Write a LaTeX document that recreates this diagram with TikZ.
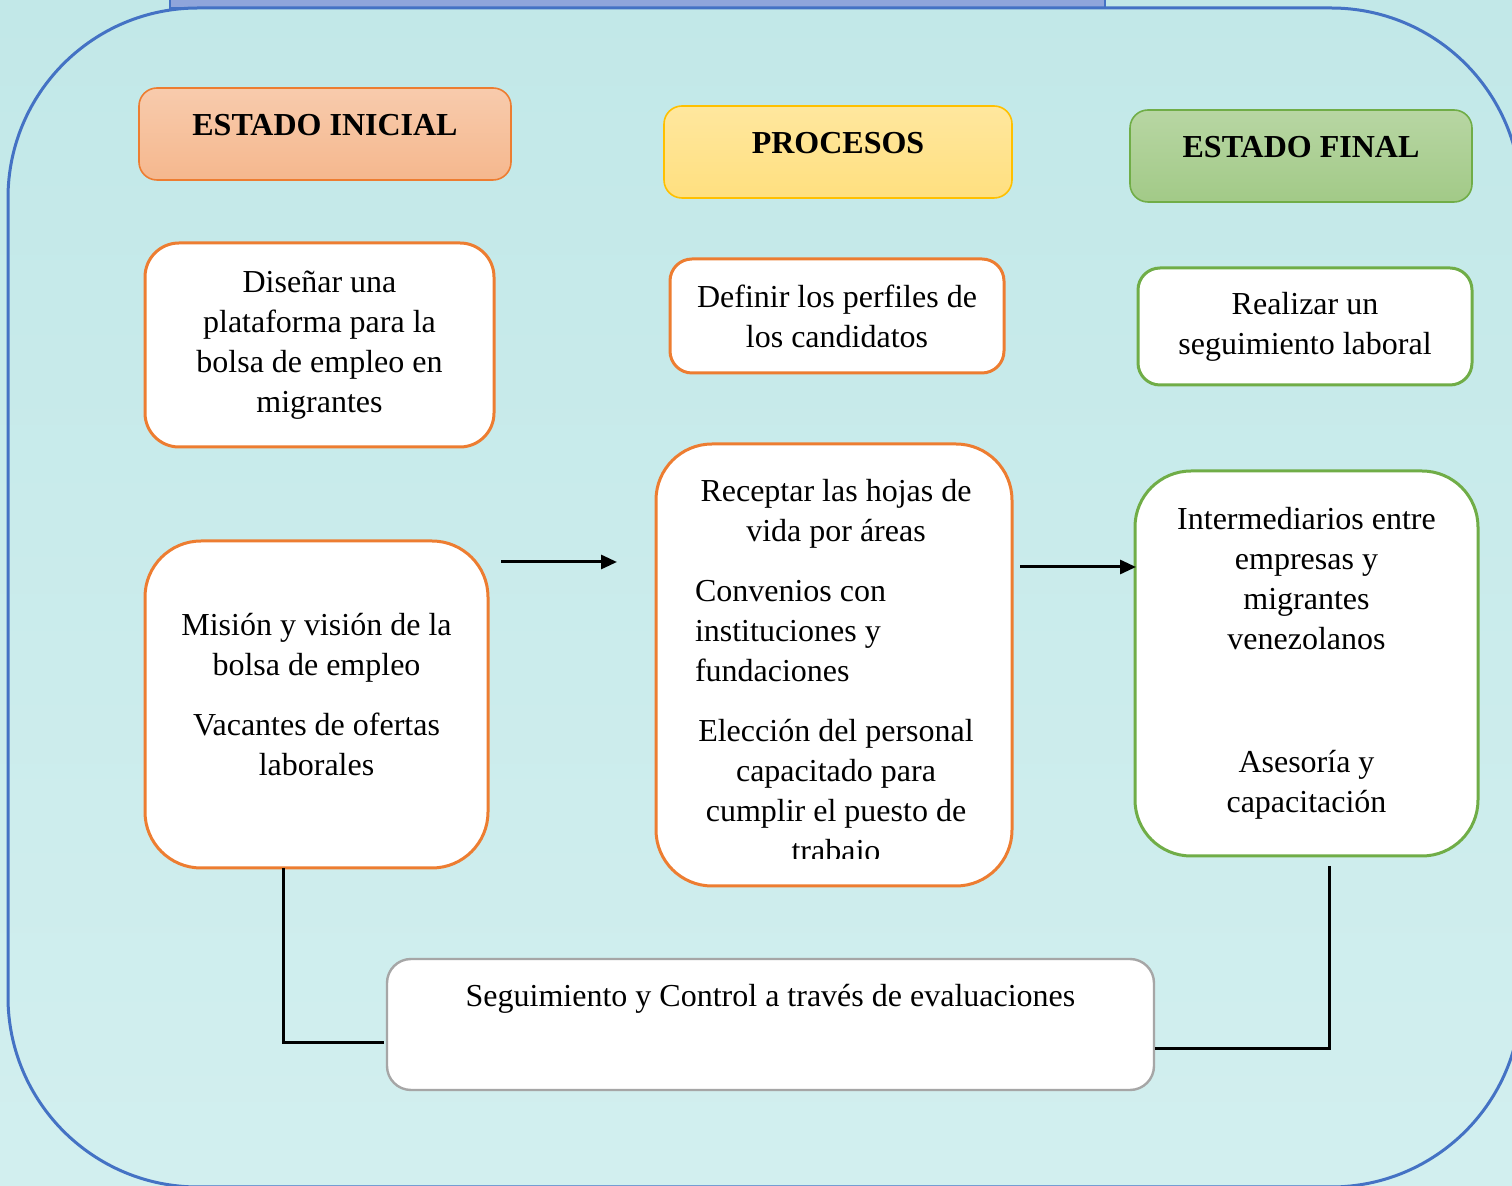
\documentclass[tikz,border=0pt]{standalone}
\usepackage{fontspec}
\setmainfont{Liberation Serif}
\usepackage{tikz}
\usetikzlibrary{arrows.meta, positioning}
\usepackage{xcolor}
\definecolor{bgcyan}{HTML}{C2E8E8}
\definecolor{bglight}{HTML}{D2EFEF}
\definecolor{frameblue}{HTML}{4472C4}
\definecolor{barblue}{HTML}{8FA5DB}
\definecolor{myorange}{HTML}{ED7D31}
\definecolor{mygold}{HTML}{FFC000}
\definecolor{mygreen}{HTML}{70AD47}
\definecolor{mygrey}{HTML}{A6A6A6}
\tikzset{>={Triangle[length=8pt,width=7pt]},
  txt/.style={font=\fontsize{16}{20}\selectfont, align=center, inner sep=0pt},
  header/.style={txt, font=\fontsize{16}{20}\selectfont\bfseries, line width=0.8pt,
    rounded corners=9pt, text height=11pt, text depth=9pt},
  whitebox/.style={txt, fill=white, line width=1.5pt},
  link/.style={line width=1.5pt, black}
}

\begin{document}
\begin{tikzpicture}[x=0.5pt, y=-0.5pt]
  \useasboundingbox (0,0) rectangle (1512,1186);
  \clip (0,0) rectangle (1512,1186);
  % background and frame
  \shade[top color=bgcyan, bottom color=bglight] (0,0) rectangle (1512,1186);
  \draw[frameblue, fill=barblue, line width=1pt] (170,-10) rectangle (1105,8);
  \draw[frameblue, line width=1.5pt, rounded corners=95pt] (8,8) rectangle (1521,1187);

  % headers
  \node[header, draw=myorange, top color=myorange!40!white, bottom color=myorange!55!white,
    minimum width=186pt, minimum height=46pt] (iniH) at (325,134) {ESTADO INICIAL};
  \node[header, draw=mygold, top color=mygold!38!white, bottom color=mygold!50!white,
    minimum width=174pt, minimum height=46pt] (procH) at (838,152) {PROCESOS};
  \node[header, draw=mygreen, top color=mygreen!50!white, bottom color=mygreen!65!white,
    minimum width=171pt, minimum height=46pt] (finH) at (1301,156) {ESTADO FINAL};

  % estado inicial
  \node[whitebox, draw=myorange, rounded corners=17pt,
    minimum width=174.5pt, minimum height=102pt] (disA) at (319.5,345)
    {Diseñar una\\ plataforma para la\\ bolsa de empleo en\\ migrantes};
  \node[whitebox, draw=myorange, rounded corners=28pt,
    minimum width=171.5pt, minimum height=163.5pt] (misB) at (316.5,704.5)
    {Misión y visión de la\\ bolsa de empleo\\[10pt] Vacantes de ofertas\\ laborales\\[-10pt]\mbox{}};

  % procesos
  \node[whitebox, draw=myorange, rounded corners=11pt,
    minimum width=167pt, minimum height=57pt] (defC) at (837,316)
    {Definir los perfiles de\\ los candidatos};
  \node[whitebox, draw=myorange, rounded corners=28pt,
    minimum width=178pt, minimum height=221pt] (recD) at (834,665) {};
  \begin{scope}
    \clip (656,440) rectangle (1012,859);
    \node[font=\fontsize{16}{20}\selectfont, inner sep=0pt, anchor=north] (recTxt) at (836,479)
      {\begin{minipage}[t]{141pt}
       \centering Receptar las hojas de\\ vida por áreas\par\vspace{10pt}
       \raggedright Convenios con\\ instituciones y\\ fundaciones\par\vspace{10pt}
       \centering Elección del personal\\ capacitado para\\ cumplir el puesto de\\ trabajo\par
       \end{minipage}};
  \end{scope}

  % estado final
  \node[whitebox, draw=mygreen, rounded corners=11pt,
    minimum width=167pt, minimum height=58.5pt] (reaE) at (1305,326.5)
    {Realizar un\\ seguimiento laboral};
  \node[whitebox, draw=mygreen, rounded corners=28pt,
    minimum width=171.5pt, minimum height=192.5pt] (intF) at (1306.5,663.5)
    {Intermediarios entre\\ empresas y\\ migrantes\\ venezolanos\\[41.5pt] Asesoría y\\ capacitación};

  % seguimiento
  \node[whitebox, draw=mygrey, line width=1.2pt, rounded corners=12pt,
    minimum width=383.5pt, minimum height=65.5pt] (segG) at (770.5,1024.5)
    {Seguimiento y Control a través de evaluaciones\\[9pt]\mbox{}};

  % connectors
  \coordinate (a1s) at (501,562);
  \coordinate (a1e) at (617,562);
  \coordinate (a2s) at (1020,567);
  \coordinate (a2e) at (1136,567);
  \draw[link, ->] (a1s) -- (a1e);
  \draw[link, ->] (a2s) -- (a2e);
  \coordinate (bDown) at (283,868);
  \coordinate (gLeft) at (384,1043);
  \coordinate (fDown) at (1329,866);
  \coordinate (gRight) at (1155,1049);
  \draw[link] (bDown) |- (gLeft);
  \draw[link] (fDown) |- (gRight);
\end{tikzpicture}
\end{document}
